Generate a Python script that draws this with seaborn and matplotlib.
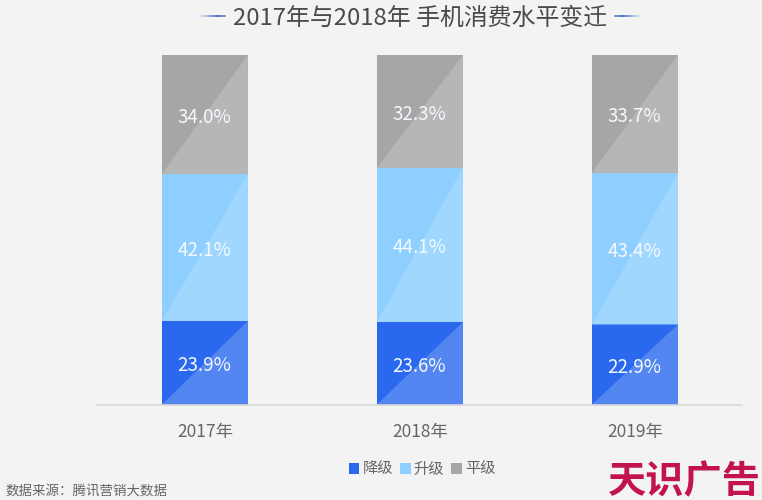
# stacked share bars, 2017-2019
import matplotlib.pyplot as plt
import numpy as np
import seaborn as sns
from matplotlib.collections import LineCollection
from matplotlib.patches import Patch, Polygon

sns.set_theme(style='white')
plt.rcParams['font.family'] = ['Noto Sans CJK SC', 'DejaVu Sans']

years = ['2017年', '2018年', '2019年']
series_names = ['降级', '升级', '平级']
down = [23.9, 23.6, 22.9]
up = [42.1, 44.1, 43.4]
flat = [34.0, 32.3, 33.7]

colors = ['#2a68ee', '#8ecfff', '#a6a6a6']
light_colors = ['#5486f2', '#a0d7ff', '#b6b6b7']
bg = '#f3f3f4'
W, H = 762, 500


def fx(px):
    return px / W


def fy(px):
    return 1 - px / H


fig = plt.figure(figsize=(W / 100, H / 100), dpi=100, facecolor=bg)
ax = fig.add_axes([fx(97), fy(404.5), fx(742 - 97), (404.5 - 55) / H], facecolor=bg)

bottom = np.zeros(3)
for vals, c, lc in zip([down, up, flat], colors, light_colors):
    sns.barplot(x=years, y=vals, bottom=bottom, color=c, saturation=1, width=0.4,
                linewidth=0, ax=ax)
    bars = ax.containers[-1]
    for bar, v in zip(bars, vals):
        x0, y0 = bar.get_x(), bar.get_y()
        x1, y1 = x0 + bar.get_width(), y0 + bar.get_height()
        # lighter lower-right triangle on each segment
        ax.add_patch(Polygon([(x0, y0), (x1, y1), (x1, y0)], facecolor=lc,
                             edgecolor='none', zorder=bar.get_zorder() + 0.1))
        # labels sit slightly below the middle of the segment
        ax.annotate(f'{v:.1f}%', ((x0 + x1) / 2, (y0 + y1) / 2), xytext=(-0.5, -2),
                    textcoords='offset points', ha='center', va='center',
                    color='#f4f8ff', fontsize=13.5, zorder=5)
    bottom = bottom + np.array(vals)

ax.set_xlim(-0.502, 2.498)
ax.set_ylim(0, 100)
ax.set_ylabel('')
ax.yaxis.set_visible(False)
sns.despine(ax=ax, left=True)
ax.spines['bottom'].set_color('#d9d9d9')
ax.spines['bottom'].set_linewidth(1.2)
ax.tick_params(axis='x', length=0, pad=13, labelsize=12.5, labelcolor='#666666')

fig.text(fx(420), fy(18), '2017年与2018年 手机消费水平变迁', ha='center', va='center',
         fontsize=17.2, color='#4a4a4a')

# fading rules either side of the title
for start, end in [(197, 226), (614, 643)]:
    xs = np.linspace(fx(start), fx(end), 30)
    ys = np.full(30, fy(16))
    segs = np.stack([np.column_stack([xs[:-1], ys[:-1]]), np.column_stack([xs[1:], ys[1:]])], axis=1)
    peak = 0.75 if start < 400 else 0.25
    alpha = np.clip(1 - np.abs(np.linspace(0, 1, 29) - peak) / 0.75, 0, 1)
    rgba = [(0.2, 0.38, 0.75, a) for a in alpha]
    fig.add_artist(LineCollection(segs, colors=rgba, linewidths=1.2, transform=fig.transFigure))

handles = [Patch(facecolor=c, edgecolor='none') for c in colors]
fig.legend(handles, series_names, loc='center', bbox_to_anchor=(fx(422), fy(469)), ncol=3,
           frameon=False, fontsize=11, labelcolor='#666666', handlelength=0.7, handleheight=0.7,
           handletextpad=0.2, columnspacing=0.45, borderpad=0)

fig.text(fx(5), fy(491), '数据来源\uff1a腾讯营销大数据', ha='left', va='center',
         fontsize=9.7, color='#666666')
fig.text(fx(608), fy(482), '天识广告', ha='left', va='center', fontsize=27.5,
         fontweight='bold', color='#c2124f')

fig.savefig('out.png', dpi=100, facecolor=bg)
